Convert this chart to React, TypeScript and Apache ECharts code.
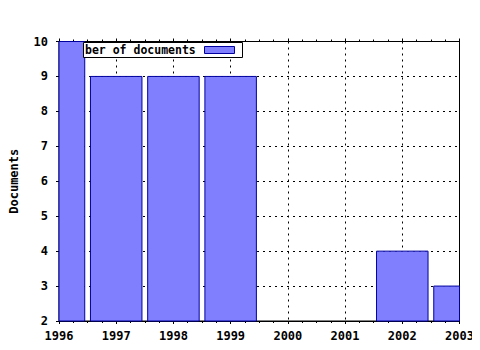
import React, { useEffect, useRef } from "react";
import * as echarts from "echarts";

const years = [1996, 1997, 1998, 1999, 2002, 2003];
const documents = [10, 9, 9, 9, 4, 3];
const seriesName = "Number of documents";
const yLabel = "Documents";
const yMin = 2;

const FONT = "'DejaVu Sans Mono', monospace";

export default function App() {
  const ref = useRef<HTMLDivElement>(null);
  useEffect(() => {
    if (!ref.current) return;
    const chart = echarts.init(ref.current, null, { renderer: "svg" });
    const xCommon = {
      type: "value" as const,
      min: 1996,
      max: 2003,
      interval: 1,
      axisLine: { show: true, lineStyle: { color: "#000", width: 1 } },
      axisTick: { show: true, length: 3, lineStyle: { color: "#000" } },
      minorTick: { show: true, splitNumber: 4, length: 2, lineStyle: { color: "#000" } },
    };
    chart.setOption({
      animation: false,
      backgroundColor: "#fff",
      grid: {
        left: 57,
        top: 41.5,
        right: 20.5,
        bottom: 29,
        show: true,
        borderColor: "#000",
        borderWidth: 1,
        backgroundColor: "transparent",
      },
      xAxis: [
        {
          ...xCommon,
          position: "bottom",
          axisLabel: {
            color: "#000",
            fontFamily: FONT,
            fontWeight: "bold",
            fontSize: 12,
            margin: 9,
            formatter: (v: number) => String(v),
          },
          splitLine: { show: true, lineStyle: { color: "#000", type: [2, 4], width: 1 } },
        },
        {
          ...xCommon,
          position: "top",
          axisLabel: { show: false },
          splitLine: { show: false },
        },
      ],
      yAxis: {
        type: "value",
        min: yMin,
        max: 10,
        interval: 1,
        name: yLabel,
        nameLocation: "middle",
        nameGap: 39,
        nameRotate: 90,
        nameTextStyle: { color: "#000", fontFamily: FONT, fontWeight: "bold", fontSize: 12 },
        axisLine: { show: true, lineStyle: { color: "#000" } },
        axisTick: { show: true, length: 3, lineStyle: { color: "#000" } },
        axisLabel: { color: "#000", fontFamily: FONT, fontWeight: "bold", fontSize: 12, margin: 11 },
        splitLine: { show: true, lineStyle: { color: "#000", type: [2, 4], width: 1 } },
      },
      series: [
        {
          name: seriesName,
          type: "custom",
          xAxisIndex: 0,
          data: years.map((y, i) => [y, documents[i]]),
          z: 3,
          renderItem: (params: any, api: any) => {
            const x = api.value(0);
            const v = api.value(1);
            const top = api.coord([x, v]);
            const base = api.coord([x, yMin]);
            const w = api.size([0.9, 0])[0];
            const rect = echarts.graphic.clipRectByRect(
              { x: top[0] - w / 2, y: top[1], width: w, height: base[1] - top[1] },
              {
                x: params.coordSys.x,
                y: params.coordSys.y,
                width: params.coordSys.width,
                height: params.coordSys.height,
              }
            );
            if (!rect) return null;
            return {
              type: "rect",
              shape: rect,
              style: { fill: "#8080ff", stroke: "#0000a0", lineWidth: 1 },
            };
          },
        },
      ],
      graphic: [
        {
          type: "rect",
          shape: { x: 83.5, y: 42.5, width: 159, height: 15 },
          style: { fill: "#fff", stroke: "#000", lineWidth: 1 },
          z: 10,
        },
        {
          type: "text",
          x: 85,
          y: 50,
          style: {
            text: "ber of documents",
            fill: "#000",
            font: "bold 11.5px 'DejaVu Sans Mono', monospace",
            verticalAlign: "middle",
            align: "left",
          },
          z: 11,
        },
        {
          type: "rect",
          shape: { x: 204.5, y: 46.5, width: 30, height: 7 },
          style: { fill: "#8080ff", stroke: "#0000a0", lineWidth: 1 },
          z: 11,
        },
      ],
    });
    return () => chart.dispose();
  }, []);
  return <div ref={ref} style={{ width: 480, height: 350, margin: -8 }} />;
}
